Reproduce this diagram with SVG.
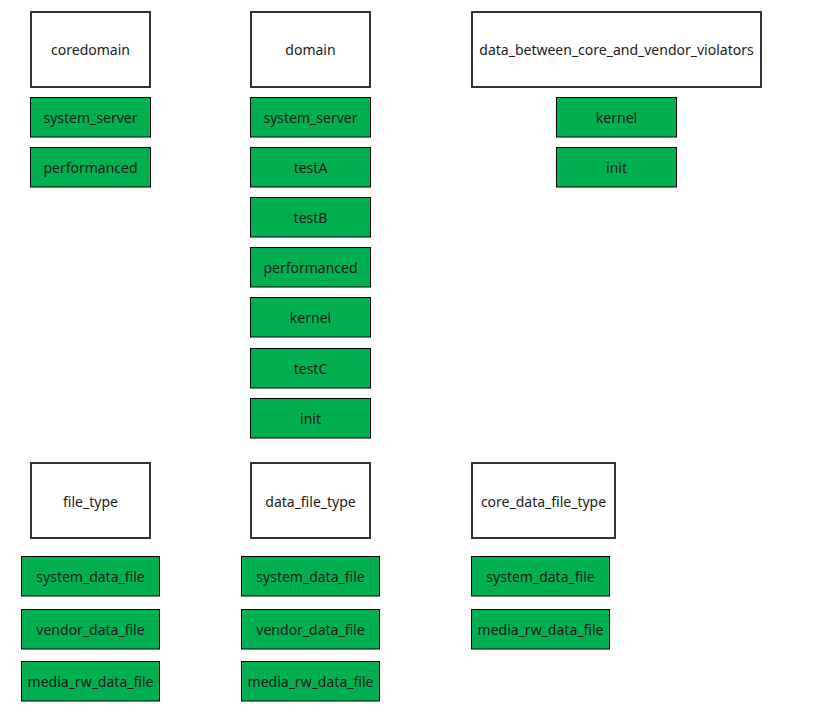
<svg xmlns="http://www.w3.org/2000/svg" width="827" height="717" viewBox="0 0 827 717">
<style>
.h{fill:#fff;stroke:#333;stroke-width:2}
.g{fill:#00B050;stroke:#000;stroke-width:1}
text{font-family:"Noto Sans","Open Sans",sans-serif;font-size:14px;fill:#1a1a1a;text-anchor:middle;dominant-baseline:central}
</style>
<rect width="827" height="717" fill="#fff"/>
<g id="coredomain"><rect class="h" x="31" y="12" width="119" height="75"/><text x="90.5" y="49.5">coredomain</text></g>
<g id="cd_system_server"><rect class="g" x="30.5" y="97.5" width="120" height="39.5"/><text x="90.5" y="117.5">system_server</text></g>
<g id="cd_performanced"><rect class="g" x="30.5" y="147.5" width="120" height="39.5"/><text x="90.5" y="167.5">performanced</text></g>

<g id="domain"><rect class="h" x="251" y="12" width="119" height="75"/><text x="310.5" y="49.5">domain</text></g>
<g id="d_system_server"><rect class="g" x="250.5" y="97.5" width="120" height="39.5"/><text x="310.5" y="117.5">system_server</text></g>
<g id="d_testA"><rect class="g" x="250.5" y="147.5" width="120" height="39.5"/><text x="310.5" y="167.5">testA</text></g>
<g id="d_testB"><rect class="g" x="250.5" y="197.5" width="120" height="39.5"/><text x="310.5" y="217.5">testB</text></g>
<g id="d_performanced"><rect class="g" x="250.5" y="247.5" width="120" height="39.5"/><text x="310.5" y="267.5">performanced</text></g>
<g id="d_kernel"><rect class="g" x="250.5" y="297.5" width="120" height="39.5"/><text x="310.5" y="317.5">kernel</text></g>
<g id="d_testC"><rect class="g" x="250.5" y="348.5" width="120" height="39.5"/><text x="310.5" y="368.5">testC</text></g>
<g id="d_init"><rect class="g" x="250.5" y="398.5" width="120" height="39.5"/><text x="310.5" y="418.5">init</text></g>

<g id="data_between_core_and_vendor_violators"><rect class="h" x="472" y="12" width="289" height="75"/><text x="616.5" y="49.5">data_between_core_and_vendor_violators</text></g>
<g id="v_kernel"><rect class="g" x="556.5" y="97.5" width="120" height="39.5"/><text x="616.5" y="117.5">kernel</text></g>
<g id="v_init"><rect class="g" x="556.5" y="147.5" width="120" height="39.5"/><text x="616.5" y="167.5">init</text></g>

<g id="file_type"><rect class="h" x="31" y="463" width="119" height="75"/><text x="90.5" y="501.5">file_type</text></g>
<g id="ft_system_data_file"><rect class="g" x="21.5" y="556.5" width="138" height="39.5"/><text x="90.5" y="576.5">system_data_file</text></g>
<g id="ft_vendor_data_file"><rect class="g" x="21.5" y="609.5" width="138" height="39.5"/><text x="90.5" y="629.5">vendor_data_file</text></g>
<g id="ft_media_rw_data_file"><rect class="g" x="21.5" y="661.5" width="138" height="39.5"/><text x="90.5" y="681.5">media_rw_data_file</text></g>

<g id="data_file_type"><rect class="h" x="251" y="463" width="119" height="75"/><text x="310.5" y="501.5">data_file_type</text></g>
<g id="dft_system_data_file"><rect class="g" x="241.5" y="556.5" width="138" height="39.5"/><text x="310.5" y="576.5">system_data_file</text></g>
<g id="dft_vendor_data_file"><rect class="g" x="241.5" y="609.5" width="138" height="39.5"/><text x="310.5" y="629.5">vendor_data_file</text></g>
<g id="dft_media_rw_data_file"><rect class="g" x="241.5" y="661.5" width="138" height="39.5"/><text x="310.5" y="681.5">media_rw_data_file</text></g>

<g id="core_data_file_type"><rect class="h" x="472" y="463" width="143" height="75"/><text x="543.5" y="501.5">core_data_file_type</text></g>
<g id="cdft_system_data_file"><rect class="g" x="471.5" y="556.5" width="138" height="39.5"/><text x="540.5" y="576.5">system_data_file</text></g>
<g id="cdft_media_rw_data_file"><rect class="g" x="471.5" y="609.5" width="138" height="39.5"/><text x="540.5" y="629.5">media_rw_data_file</text></g>

<g id="connectors"></g>
</svg>
